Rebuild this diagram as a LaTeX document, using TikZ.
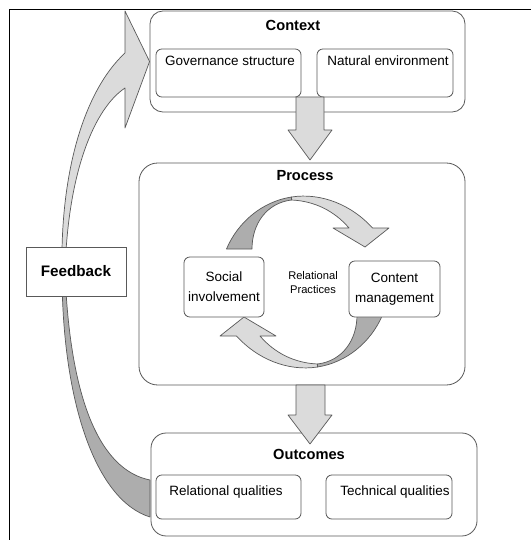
\documentclass[tikz,border=0pt]{standalone}
\usepackage{fontspec}
\setmainfont{Liberation Sans}
\usetikzlibrary{positioning}

\definecolor{lightfill}{gray}{0.86}
\definecolor{darkfill}{gray}{0.68}
\definecolor{edgegray}{gray}{0.35}

\tikzset{
  bigbox/.style={draw=edgegray, line width=0.7pt},
  smallbox/.style={draw=edgegray, line width=0.7pt, rounded corners=5pt, fill=white},
  heading/.style={font=\fontsize{12.5}{14}\selectfont\bfseries},
  txt/.style={font=\fontsize{11.5}{17}\selectfont, align=center},
  blockarrow/.style={draw=edgegray, line width=0.6pt, fill=lightfill, line join=round},
}

\begin{document}
\begin{tikzpicture}[x=0.03cm, y=-0.03cm]
    \useasboundingbox (0,0) rectangle (531,540);

    % frame lines
    \draw[line width=0.8pt] (9,540) -- (9,9) -- (531,9);

    % the three large boxes
    \node[bigbox, rounded corners=11pt, minimum width=9.45cm, minimum height=3.03cm] (context) at (307.5,61.5) {};
    \node[bigbox, rounded corners=16pt, minimum width=9.78cm, minimum height=6.66cm] (process) at (302,274) {};
    \node[bigbox, rounded corners=13pt, minimum width=9.78cm, minimum height=3.09cm] (outcomes) at (314,484.5) {};

    \node[heading] (contexttitle) at (293,25) {Context};
    \node[heading] (processtitle) at (305,176) {Process};
    \node[heading] (outcomestitle) at (309,454) {Outcomes};

    % relational practices cycle
    \begin{scope}[shift={(304.5,282)}]
        \foreach \a in {0,180} {
            \begin{scope}[rotate=\a]
                \draw[blockarrow] (-13,-85) .. controls (17,-89.6) and (47.5,-76.8) .. (68,-54)
                    -- (84.5,-54) -- (60.5,-35) -- (28.5,-54) -- (44.5,-54)
                    .. controls (30,-71) and (10,-81) .. (-13,-82) -- cycle;
                \draw[blockarrow, fill=darkfill] (-78,-33) .. controls (-66.5,-60.2) and (-42,-80.5) .. (-13,-85)
                    -- (-13,-82) .. controls (-38,-79) and (-52.5,-58) .. (-52.5,-33) -- cycle;
            \end{scope}
        }
    \end{scope}

    % small boxes
    \node[smallbox, minimum width=4.35cm, minimum height=1.44cm] (gov) at (228.5,73) {};
    \node[smallbox, minimum width=4.08cm, minimum height=1.44cm] (nature) at (385,73) {};
    \node[txt] (govtext) at (230,61) {Governance structure};
    \node[txt] (naturetext) at (388,61) {Natural environment};

    \node[smallbox, txt, minimum width=2.4cm, minimum height=1.8cm] (social) at (224,287) {Social\\involvement};
    \node[smallbox, txt, minimum width=2.73cm, minimum height=1.68cm] (content) at (394.5,289) {Content\\management};
    \node[font=\fontsize{9.5}{12.75}\selectfont, align=center] (practices) at (313,282.5) {Relational\\Practices};

    \node[smallbox, minimum width=4.35cm, minimum height=1.32cm] (relq) at (228.5,497) {};
    \node[smallbox, minimum width=3.78cm, minimum height=1.32cm] (techq) at (389,497) {};
    \node[txt] (relqtext) at (226,492) {Relational qualities};
    \node[txt] (techqtext) at (395,492) {Technical qualities};

    % feedback arrow: dark lower part, light upper part
    \draw[blockarrow, fill=darkfill] (62,272) .. controls (62,400) and (95,500) .. (150,517)
        -- (150,480) .. controls (100,470) and (70,400) .. (65,272) -- cycle;
    \draw[blockarrow] (62,272) .. controls (60,170) and (85,90) .. (125,53)
        -- (125,11) -- (context.west) -- (125,128) -- (125,88)
        .. controls (95,108) and (68,170) .. (65,272) -- cycle;
    \node[draw=edgegray, line width=0.7pt, fill=white, minimum width=3cm, minimum height=1.47cm,
        font=\fontsize{13}{15}\selectfont\bfseries] (feedback) at (76,271.5) {Feedback};

    % down arrows
    \draw[blockarrow] (296,97) -- (296,130) -- (288,130) -- (310,160) -- (332,130) -- (324,130) -- (324,97) -- cycle;
    \draw[blockarrow] (296,385) -- (296,415) -- (288,415) -- (310,444) -- (332,415) -- (325,415) -- (325,385) -- cycle;
\end{tikzpicture}
\end{document}
